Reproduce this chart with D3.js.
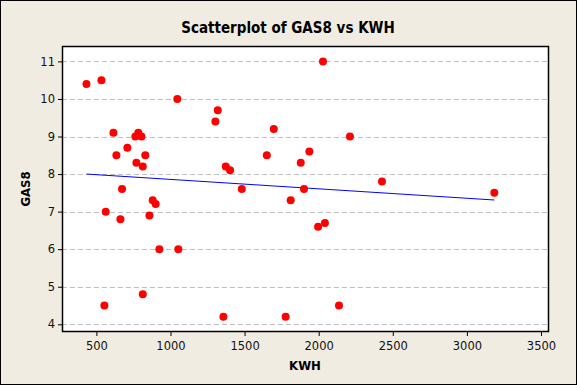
<!DOCTYPE html>
<html>
<head>
<meta charset="utf-8">
<script src="https://cdn.jsdelivr.net/npm/d3@7"></script>
<style>
  body { margin: 0; background: #f0ece1; }
  svg { display: block; }
  .tick text { font-family: "DejaVu Sans", sans-serif; font-size: 11.5px; fill: #111; }
</style>
</head>
<body>
<script>
//data
var kwh = [433, 534, 1046, 1319, 1303, 1697, 615, 783, 763, 804,
           709, 635, 830, 1650, 770, 813, 1373, 1402, 1879, 1937,
           673, 1481, 1901, 2029, 2211, 2427, 3185, 1811, 1996, 2042,
           2137, 1777, 563, 662, 880, 900, 858, 925, 1053, 813,
           554, 1357];
var gas8 = [10.4, 10.5, 10.0, 9.7, 9.4, 9.2, 9.1, 9.1, 9.0, 9.0,
            8.7, 8.5, 8.5, 8.5, 8.3, 8.2, 8.2, 8.1, 8.3, 8.6,
            7.6, 7.6, 7.6, 11.0, 9.0, 7.8, 7.5, 7.3, 6.6, 6.7,
            4.5, 4.2, 7.0, 6.8, 7.3, 7.2, 6.9, 6.0, 6.0, 4.8,
            4.5, 4.2];
var xTicks = [500, 1000, 1500, 2000, 2500, 3000, 3500];
var yTicks = [4, 5, 6, 7, 8, 9, 10, 11];
//fitted line (intercept, slope)
var fitIntercept = 8.109,
    fitSlope = -0.000251;

(function(){
    var width = 577,
        height = 385;
    var left = 62, right = 549, top = 46, bottom = 332;

    var svg = d3.select("body")
        .append("svg")
        .attr("width", width)
        .attr("height", height);

    //outer frame
    svg.append("rect")
        .attr("x", 0.5).attr("y", 0.5)
        .attr("width", width - 1).attr("height", height - 1)
        .attr("fill", "#f0ece1")
        .attr("stroke", "#000");

    var x = d3.scaleLinear().domain([268, 3554]).range([left, right]);
    var y = d3.scaleLinear().domain([3.795, 11.41]).range([bottom, top]);

    //plot area
    svg.append("rect")
        .attr("x", left).attr("y", top)
        .attr("width", right - left).attr("height", bottom - top)
        .attr("fill", "#fff");

    //dashed grid
    svg.selectAll(".grid")
        .data(yTicks)
        .enter()
        .append("line")
        .attr("class", "grid")
        .attr("x1", left).attr("x2", right)
        .attr("y1", function(d){ return Math.round(y(d)) + 0.5; })
        .attr("y2", function(d){ return Math.round(y(d)) + 0.5; })
        .attr("stroke", "#c0c0c0")
        .attr("stroke-dasharray", "5,3");

    //axes
    var xAxis = svg.append("g")
        .attr("transform", "translate(0," + bottom + ")")
        .call(d3.axisBottom(x).tickValues(xTicks).tickSize(4).tickPadding(6).tickFormat(d3.format("d")));
    var yAxis = svg.append("g")
        .attr("transform", "translate(" + left + ",0)")
        .call(d3.axisLeft(y).tickValues(yTicks).tickSize(4).tickPadding(3));
    [xAxis, yAxis].forEach(function(g){
        g.select(".domain").remove();
        g.selectAll(".tick line").attr("stroke", "#000");
    });

    //frame around plot area
    svg.append("rect")
        .attr("x", left + 0.5).attr("y", top + 0.5)
        .attr("width", right - left - 1).attr("height", bottom - top - 1)
        .attr("fill", "none")
        .attr("stroke", "#000")
        .attr("stroke-width", 1.5);

    //regression line
    var xr = d3.extent(kwh);
    svg.append("line")
        .attr("x1", x(xr[0])).attr("y1", y(fitIntercept + fitSlope * xr[0]))
        .attr("x2", x(xr[1])).attr("y2", y(fitIntercept + fitSlope * xr[1]))
        .attr("stroke", "#0000ff")
        .attr("stroke-width", 1);

    //points
    svg.selectAll(".pt")
        .data(kwh)
        .enter()
        .append("circle")
        .attr("class", "pt")
        .attr("cx", function(d){ return x(d); })
        .attr("cy", function(d, i){ return y(gas8[i]); })
        .attr("r", 4)
        .attr("fill", "#ff0000");

    //title and axis labels
    svg.append("text")
        .attr("x", 288).attr("y", 33)
        .attr("text-anchor", "middle")
        .style("font-family", "'DejaVu Sans Condensed', 'DejaVu Sans', sans-serif")
        .style("font-weight", "bold")
        .style("font-size", "15px")
        .text("Scatterplot of GAS8 vs KWH");
    svg.append("text")
        .attr("x", 305).attr("y", 370)
        .attr("text-anchor", "middle")
        .style("font-family", "'DejaVu Sans Condensed', 'DejaVu Sans', sans-serif")
        .style("font-weight", "bold")
        .style("font-size", "13px")
        .text("KWH");
    svg.append("text")
        .attr("transform", "translate(30," + 189 + ") rotate(-90)")
        .attr("text-anchor", "middle")
        .style("font-family", "'DejaVu Sans Condensed', 'DejaVu Sans', sans-serif")
        .style("font-weight", "bold")
        .style("font-size", "13px")
        .text("GAS8");
})();
</script>
</body>
</html>
